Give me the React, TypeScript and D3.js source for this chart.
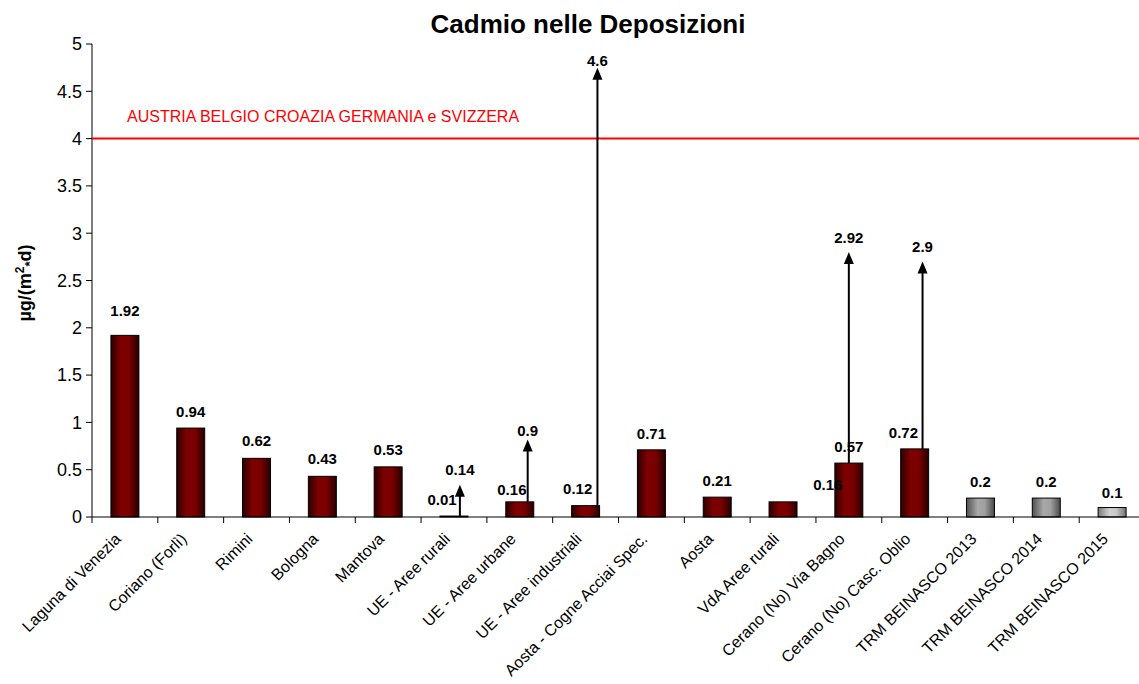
import React from "react";
import * as d3 from "d3";

const categories = [
  "Laguna di Venezia",
  "Coriano (Forlì)",
  "Rimini",
  "Bologna",
  "Mantova",
  "UE - Aree rurali",
  "UE - Aree urbane",
  "UE - Aree industriali",
  "Aosta - Cogne Acciai Spec.",
  "Aosta",
  "VdA Aree rurali",
  "Cerano (No) Via Bagno",
  "Cerano (No) Casc. Oblio",
  "TRM BEINASCO 2013",
  "TRM BEINASCO 2014",
  "TRM BEINASCO 2015",
];
const values = [1.92, 0.94, 0.62, 0.43, 0.53, 0.01, 0.16, 0.12, 0.71, 0.21, 0.16, 0.57, 0.72, 0.2, 0.2, 0.1];
const valueLabels = ["1.92", "0.94", "0.62", "0.43", "0.53", "0.01", "0.16", "0.12", "0.71", "0.21", "0.16", "0.57", "0.72", "0.2", "0.2", "0.1"];
// label shift in category steps, and gap above the bar in px
const labelShift = [0, 0, 0, 0, 0, -0.18, -0.12, -0.12, 0, 0, 0.68, 0, -0.17, 0, 0, 0];
const labelGap = [19, 11, 12, 12, 12, 11, 7, 12, 11, 11, 12, 11, 11, 11, 11, 10];
const barStyle = ["red", "red", "red", "red", "red", "red", "red", "red", "red", "red", "red", "red", "red", "grey", "grey", "lightgrey"];

// range arrows: category, max label, arrow tip value
const arrowCats = ["UE - Aree rurali", "UE - Aree urbane", "UE - Aree industriali", "Cerano (No) Via Bagno", "Cerano (No) Casc. Oblio"];
const arrowMaxLabels = ["0.14", "0.9", "4.6", "2.92", "2.9"];
const arrowTips = [0.34, 0.82, 4.75, 2.8, 2.7];
const arrowOffsets = [0.09, 0.12, 0.18, 0, 0.12];
const arrowLabelGap = [10, 3, 2, 9, 10];

const yTicks = [0, 0.5, 1, 1.5, 2, 2.5, 3, 3.5, 4, 4.5, 5];
const limitValue = 4;
const limitLabel = "AUSTRIA BELGIO CROAZIA GERMANIA e SVIZZERA";

export default function App() {
  const W = 1139, H = 684;
  const left = 92, right = 1145, top = 44, bottom = 517;
  const x = d3.scaleBand<string>().domain(categories).range([left, right]).paddingInner(0.575).paddingOuter(0.2875);
  const y = d3.scaleLinear().domain([0, 5]).range([bottom, top]);
  const step = x.step();
  const font = "Arial, 'Liberation Sans', sans-serif";
  const fills: Record<string, string> = { red: "url(#gRed)", grey: "url(#gGrey)", lightgrey: "url(#gLight)" };

  return (
    <svg width={W} height={H} style={{ position: "absolute", left: 0, top: 0, background: "#fff" }} fontFamily={font}>
      <defs>
        <linearGradient id="gRed" x1="0" x2="1" y1="0" y2="0">
          <stop offset="0%" stopColor="#2a0000" />
          <stop offset="35%" stopColor="#7e0000" />
          <stop offset="65%" stopColor="#7a0000" />
          <stop offset="100%" stopColor="#260000" />
        </linearGradient>
        <linearGradient id="gGrey" x1="0" x2="1" y1="0" y2="0">
          <stop offset="0%" stopColor="#505050" />
          <stop offset="40%" stopColor="#a8a8a8" />
          <stop offset="65%" stopColor="#a0a0a0" />
          <stop offset="100%" stopColor="#4a4a4a" />
        </linearGradient>
        <linearGradient id="gLight" x1="0" x2="1" y1="0" y2="0">
          <stop offset="0%" stopColor="#7a7a7a" />
          <stop offset="40%" stopColor="#d0d0d0" />
          <stop offset="65%" stopColor="#c8c8c8" />
          <stop offset="100%" stopColor="#707070" />
        </linearGradient>
      </defs>

      <text x={588} y={33} textAnchor="middle" fontSize={26} fontWeight="bold">Cadmio nelle Deposizioni</text>

      {/* y axis */}
      <line x1={left} x2={left} y1={top} y2={bottom} stroke="#000" />
      {yTicks.map((t) => (
        <g key={t}>
          <line x1={left - 6} x2={left} y1={y(t)} y2={y(t)} stroke="#000" />
          <text x={left - 10} y={y(t)} dy="0.35em" textAnchor="end" fontSize={18}>{t}</text>
        </g>
      ))}
      <text transform={`translate(31,${283}) rotate(-90)`} textAnchor="middle" fontSize={18} fontWeight="bold">
        µg/(m<tspan dy={-7} fontSize={12}>2</tspan><tspan dy={10} fontSize={13}>*</tspan><tspan dy={-3}>d)</tspan>
      </text>

      {/* limit line */}
      <line x1={left} x2={W} y1={y(limitValue)} y2={y(limitValue)} stroke="#ff0000" strokeWidth={2} />
      <text x={127} y={y(limitValue) - 17} fontSize={16} fill="#ff0000">{limitLabel}</text>

      {/* bars */}
      {categories.map((c, i) => (
        <rect key={c} x={x(c)!} y={y(values[i])} width={x.bandwidth()} height={bottom - y(values[i])}
          fill={fills[barStyle[i]]} stroke="#000" strokeWidth={1} />
      ))}

      {/* x axis */}
      <line x1={left} x2={W} y1={bottom} y2={bottom} stroke="#000" />
      {d3.range(categories.length + 1).map((i) => (
        <line key={i} x1={left + i * step} x2={left + i * step} y1={bottom} y2={bottom + 6} stroke="#000" />
      ))}
      {categories.map((c) => {
        const cx = x(c)! + x.bandwidth() / 2 - 3;
        return (
          <text key={c} transform={`translate(${cx},${bottom + 23}) rotate(-45)`} textAnchor="end" fontSize={16}>{c}</text>
        );
      })}

      {/* value labels */}
      {categories.map((c, i) => (
        <text key={c} x={x(c)! + x.bandwidth() / 2 + labelShift[i] * step} y={y(values[i]) - labelGap[i]}
          textAnchor="middle" fontSize={15} fontWeight="bold">{valueLabels[i]}</text>
      ))}

      {/* range arrows */}
      {arrowCats.map((c, i) => {
        const idx = categories.indexOf(c);
        const ax = x(c)! + x.bandwidth() / 2 + arrowOffsets[i] * step;
        const y0 = y(values[idx]);
        const yt = y(arrowTips[i]);
        return (
          <g key={c}>
            <line x1={ax} x2={ax} y1={y0} y2={yt + 10} stroke="#000" strokeWidth={2} />
            <path d={`M${ax},${yt} L${ax - 5},${yt + 12} L${ax + 5},${yt + 12} Z`} fill="#000" />
            <text x={ax} y={yt - arrowLabelGap[i]} textAnchor="middle" fontSize={15} fontWeight="bold">{arrowMaxLabels[i]}</text>
          </g>
        );
      })}
    </svg>
  );
}
